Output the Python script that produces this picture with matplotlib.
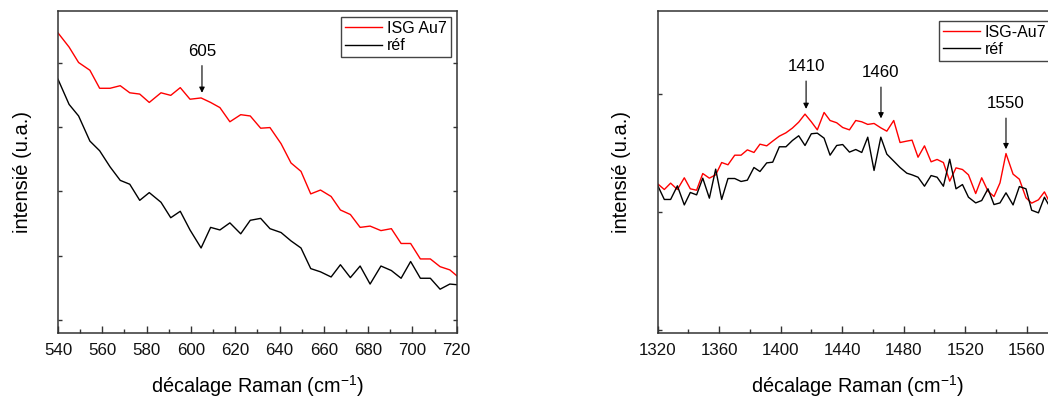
import matplotlib
matplotlib.use("Agg")
import matplotlib.pyplot as plt

plt.rcParams['font.family'] = ['Liberation Sans', 'DejaVu Sans']
plt.rcParams['mathtext.default'] = 'regular'

# panneau gauche : 540 - 720 cm-1
x_g = [540.0, 545.0, 549.3, 554.4, 558.8, 563.5, 568.1, 572.4, 576.9, 581.2,
       586.5, 590.9, 595.2, 599.6, 604.6, 608.9, 613.1, 617.6, 622.5, 626.8,
       631.5, 635.7, 640.7, 645.2, 649.7, 654.1, 658.5, 663.3, 667.5, 672.0,
       676.4, 680.9, 685.8, 690.5, 694.9, 699.2, 703.6, 708.1, 712.5, 716.9,
       720.0]
isg_g = [4.46, 4.24, 4.00, 3.88, 3.60, 3.60, 3.64, 3.53, 3.51, 3.38,
         3.53, 3.49, 3.61, 3.43, 3.45, 3.38, 3.30, 3.08, 3.19, 3.17,
         2.98, 2.99, 2.74, 2.44, 2.31, 1.96, 2.02, 1.92, 1.71, 1.64,
         1.44, 1.46, 1.39, 1.42, 1.19, 1.19, 0.95, 0.95, 0.83, 0.78,
         0.69]
ref_g = [3.74, 3.35, 3.17, 2.78, 2.63, 2.38, 2.17, 2.11, 1.86, 1.98,
         1.83, 1.59, 1.69, 1.40, 1.12, 1.44, 1.40, 1.51, 1.34, 1.55,
         1.58, 1.42, 1.36, 1.23, 1.12, 0.80, 0.75, 0.67, 0.86, 0.66,
         0.84, 0.56, 0.84, 0.77, 0.65, 0.91, 0.65, 0.65, 0.48, 0.56,
         0.55]

# panneau droit : 1320 - 1580 cm-1
x_d = [1320.0, 1324.3, 1328.4, 1332.8, 1337.3, 1341.2, 1345.3, 1349.3, 1353.6, 1357.7,
       1361.6, 1365.7, 1370.1, 1374.2, 1378.3, 1382.6, 1386.5, 1390.9, 1394.8, 1399.1,
       1403.4, 1407.6, 1411.7, 1415.8, 1419.9, 1423.8, 1428.2, 1432.1, 1436.4, 1440.3,
       1444.7, 1448.8, 1452.7, 1456.6, 1460.7, 1465.1, 1469.0, 1473.5, 1477.6, 1482.0,
       1485.4, 1489.3, 1493.5, 1497.8, 1501.7, 1505.8, 1509.9, 1514.0, 1518.2, 1522.1,
       1526.8, 1530.7, 1534.8, 1538.7, 1542.6, 1546.5, 1551.1, 1555.2, 1559.5, 1563.2,
       1567.6, 1571.5, 1573.9]
isg_d = [1.237, 1.189, 1.243, 1.189, 1.288, 1.195, 1.183, 1.324, 1.285, 1.313,
         1.417, 1.398, 1.479, 1.479, 1.524, 1.502, 1.572, 1.558, 1.598, 1.640,
         1.668, 1.708, 1.758, 1.826, 1.761, 1.693, 1.840, 1.772, 1.753, 1.713,
         1.693, 1.772, 1.761, 1.739, 1.747, 1.710, 1.682, 1.772, 1.586, 1.598,
         1.606, 1.462, 1.558, 1.423, 1.443, 1.417, 1.260, 1.372, 1.358, 1.313,
         1.155, 1.288, 1.175, 1.130, 1.245, 1.493, 1.319, 1.276, 1.119, 1.074,
         1.102, 1.169, 1.107]
ref_d = [1.223, 1.105, 1.105, 1.220, 1.059, 1.164, 1.144, 1.285, 1.116, 1.361,
         1.105, 1.282, 1.282, 1.257, 1.268, 1.375, 1.341, 1.414, 1.420, 1.550,
         1.550, 1.603, 1.643, 1.561, 1.660, 1.665, 1.623, 1.479, 1.561, 1.569,
         1.505, 1.527, 1.502, 1.631, 1.350, 1.631, 1.488, 1.429, 1.375, 1.327,
         1.313, 1.293, 1.217, 1.307, 1.293, 1.217, 1.445, 1.195, 1.231, 1.124,
         1.076, 1.096, 1.195, 1.062, 1.076, 1.161, 1.059, 1.214, 1.195, 1.014,
         0.992, 1.124, 1.068]

# annotations (position du pic, pointe de la fleche)
pics_g = [(605, 3.53)]
pics_d = [(1416.5, 1.87), (1465.2, 1.79), (1546.5, 1.53)]
etiquettes_d = ['1410', '1460', '1550']

W, H = 1048, 401
fig = plt.figure(figsize=(W / 100, H / 100), dpi=100)
ax1 = fig.add_axes([58 / W, 1 - 333 / H, 398.7 / W, 322 / H])
ax2 = fig.add_axes([657.7 / W, 1 - 333 / H, 399.8 / W, 322 / H])

spine_col = '#333333'


def style_axes(ax, right_ticks):
    for s in ax.spines.values():
        s.set_color(spine_col)
        s.set_linewidth(1.1)
    ax.tick_params(axis='both', which='both', direction='in', colors=spine_col,
                   labelcolor='#111111', labelsize=12.2, width=1.0)
    ax.tick_params(axis='x', which='major', length=5, pad=7)
    ax.tick_params(axis='x', which='minor', length=3)
    ax.tick_params(axis='y', which='major', length=3, labelleft=False,
                   right=right_ticks)
    ax.set_ylabel('intensié (u.a.)', fontsize=14.5, labelpad=19)
    ax.set_xlabel(r'décalage Raman (cm$^{-1}$)', fontsize=14.3, labelpad=11)


# gauche
ax1.plot(x_g, isg_g, color='#ff0000', lw=1.0, label='ISG Au7')
ax1.plot(x_g, ref_g, color='black', lw=1.0, label='réf')
ax1.set_xlim(540, 720)
ax1.set_ylim(-0.2, 4.8)
ax1.set_xticks(range(540, 721, 20))
ax1.set_xticks(range(550, 720, 20), minor=True)
ax1.set_yticks([0, 1, 2, 3, 4])
style_axes(ax1, True)
for xp, yp in pics_g:
    ax1.annotate(str(xp), xy=(xp, yp), xytext=(xp, 4.06), ha='center', va='bottom',
                 fontsize=12.2,
                 arrowprops=dict(arrowstyle='-|>', color='black', lw=0.8,
                                 mutation_scale=8, shrinkA=3, shrinkB=0))
leg1 = ax1.legend(loc='upper right', bbox_to_anchor=(0.985, 0.982), fontsize=11.5,
                  frameon=True, fancybox=False, framealpha=1, edgecolor='#444444',
                  handlelength=2.3, handletextpad=0.3, labelspacing=0.15,
                  borderpad=0.25, borderaxespad=0)
leg1.get_frame().set_linewidth(1.0)

# droite
ax2.plot(x_d, isg_d, color='#ff0000', lw=1.0, label='ISG-Au7')
ax2.plot(x_d, ref_d, color='black', lw=1.0, label='réf')
ax2.set_xlim(1320, 1580)
ax2.set_ylim(-0.023, 2.697)
ax2.set_xticks(range(1320, 1581, 40))
ax2.set_xticks(range(1340, 1580, 40), minor=True)
ax2.set_yticks([0, 1, 2])
style_axes(ax2, True)
tops = [2.164, 2.113, 1.851]
for (xp, yp), lab, top in zip(pics_d, etiquettes_d, tops):
    ax2.annotate(lab, xy=(xp, yp), xytext=(xp, top), ha='center', va='bottom',
                 fontsize=12.2,
                 arrowprops=dict(arrowstyle='-|>', color='black', lw=0.8,
                                 mutation_scale=8, shrinkA=3, shrinkB=0))
leg2 = ax2.legend(loc='upper right', bbox_to_anchor=(0.981, 0.970), fontsize=11.5,
                  frameon=True, fancybox=False, framealpha=1, edgecolor='#444444',
                  handlelength=2.3, handletextpad=0.3, labelspacing=0.15,
                  borderpad=0.25, borderaxespad=0)
leg2.get_frame().set_linewidth(1.0)

fig.savefig('out.png', dpi=100)
